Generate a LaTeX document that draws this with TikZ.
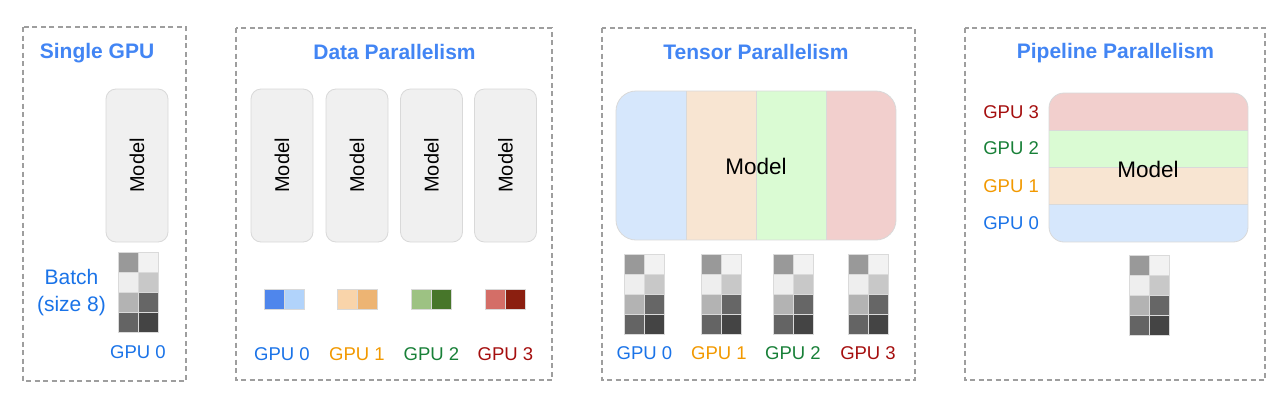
\documentclass[tikz,border=0pt]{standalone}
\usepackage{fontspec}
\setmainfont{Liberation Sans}
\definecolor{titleblue}{HTML}{4285F4}
\definecolor{gblue}{HTML}{1A73E8}
\definecolor{gorange}{HTML}{F29900}
\definecolor{ggreen}{HTML}{188038}
\definecolor{gred}{HTML}{A50E0E}
\definecolor{dashgray}{HTML}{9E9E9E}
\definecolor{modelfill}{HTML}{F0F0F0}
\definecolor{modeldraw}{HTML}{D9D9D9}
\definecolor{cellline}{HTML}{DADADA}
\definecolor{ga}{HTML}{999999}
\definecolor{gb}{HTML}{F2F2F2}
\definecolor{gc}{HTML}{EEEEEE}
\definecolor{gd}{HTML}{C8C8C8}
\definecolor{ge}{HTML}{B3B3B3}
\definecolor{gf}{HTML}{666666}
\definecolor{gg}{HTML}{646464}
\definecolor{gh}{HTML}{444444}
\definecolor{pbA}{HTML}{4F86EC}
\definecolor{pbB}{HTML}{B1D3FB}
\definecolor{poA}{HTML}{F9D4AA}
\definecolor{poB}{HTML}{EDB473}
\definecolor{pgA}{HTML}{9DC283}
\definecolor{pgB}{HTML}{47762A}
\definecolor{prA}{HTML}{D46E67}
\definecolor{prB}{HTML}{8B1F10}
\definecolor{sblue}{HTML}{D6E7FC}
\definecolor{sorange}{HTML}{F8E5D2}
\definecolor{sgreen}{HTML}{DAFBD3}
\definecolor{sred}{HTML}{F2CFCD}
\newcommand{\mybatch}[3]{%
  \foreach \cc/\rr/\col in {0/0/ga,1/0/gb,0/1/gc,1/1/gd,0/2/ge,1/2/gf,0/3/gg,1/3/gh}{
    \draw[draw=cellline, fill=\col, line width=0.6pt] ({#1+\cc*20},{#2+\rr*20}) rectangle ++(20,20);
  }
  \coordinate (#3) at ({#1+20},{#2+40});
}
\begin{document}
\begin{tikzpicture}[x=1pt,y=-1pt,
  panel/.style={draw=dashgray, line width=1.3pt, dash pattern=on 5pt off 3.5pt},
  title/.style={font=\fontsize{21}{25}\selectfont\bfseries, text=titleblue, inner sep=0pt},
  gpulab/.style={font=\fontsize{18.5}{23}\selectfont, inner sep=0pt},
  modelbox/.style={draw=modeldraw, fill=modelfill, rounded corners=10pt, line width=0.8pt, minimum width=62pt, minimum height=153pt, inner sep=0pt},
  modeltext/.style={font=\fontsize{20}{24}\selectfont, inner sep=0pt},
  hmodeltext/.style={font=\fontsize{22.5}{26}\selectfont, inner sep=0pt},
  chip/.style={draw=black!15, line width=0.6pt}
]
\useasboundingbox (0,0) rectangle (1280,397);
\fill[white] (0,0) rectangle (1280,397);

% panels
\draw[panel] (23,27) rectangle (186,381);
\draw[panel] (236,28) rectangle (552,380);
\draw[panel] (602,28) rectangle (915,380);
\draw[panel] (965,28) rectangle (1265,380);

% titles
\node[title] (t1) at (97,53) {Single GPU};
\node[title] (t2) at (394.5,52) {Data Parallelism};
\node[title] (t3) at (756,52) {Tensor Parallelism};
\node[title] (t4) at (1115.5,53) {Pipeline Parallelism};

% ---------- Single GPU ----------
\node[modelbox] (m0) at (137,165.5) {};
\node[modeltext, rotate=90] (m0t) at (m0.center) {Model};
\mybatch{118}{252}{b0}
\node[text=gblue, align=center, inner sep=0pt, font=\fontsize{21}{27}\selectfont] (batch) at (71.5,292.5) {Batch\\(size 8)};
\node[gpulab, text=gblue] (s0) at (138,352) {GPU 0};

% ---------- Data Parallelism ----------
\foreach \i/\xx in {1/282,2/357,3/431.5,4/505.5}{
  \node[modelbox] (dm\i) at (\xx,165.5) {};
  \node[modeltext, rotate=90] (dm\i t) at (dm\i.center) {Model};
}
\draw[chip, fill=pbA] (264.5,289) rectangle ++(20,20);
\draw[chip, fill=pbB] (284.5,289) rectangle ++(20,20);
\draw[chip, fill=poA] (337,289) rectangle ++(20,20);
\draw[chip, fill=poB] (357,289) rectangle ++(20,20);
\draw[chip, fill=pgA] (411,289) rectangle ++(20,20);
\draw[chip, fill=pgB] (431,289) rectangle ++(20,20);
\draw[chip, fill=prA] (485.5,289) rectangle ++(20,20);
\draw[chip, fill=prB] (505.5,289) rectangle ++(20,20);
\node[gpulab, text=gblue] (d0) at (282,354) {GPU 0};
\node[gpulab, text=gorange] (d1) at (357,354) {GPU 1};
\node[gpulab, text=ggreen] (d2) at (431.5,354) {GPU 2};
\node[gpulab, text=gred] (d3) at (505.5,354) {GPU 3};

% ---------- Tensor Parallelism ----------
\begin{scope}
  \clip[rounded corners=20pt] (616,91) rectangle (896,240);
  \fill[sblue] (616,91) rectangle (686,240);
  \fill[sorange] (686,91) rectangle (756,240);
  \fill[sgreen] (756,91) rectangle (826,240);
  \fill[sred] (826,91) rectangle (896,240);
  \draw[draw=black!15, line width=0.7pt] (686,91) -- (686,240) (756,91) -- (756,240) (826,91) -- (826,240);
\end{scope}
\node[draw=modeldraw, line width=0.8pt, rounded corners=20pt, minimum width=280pt, minimum height=149pt, inner sep=0pt] (tm) at (756,165.5) {};
\node[hmodeltext] (tmt) at (756,166) {Model};
\mybatch{624}{254}{tb0}
\mybatch{701}{254}{tb1}
\mybatch{773}{254}{tb2}
\mybatch{848}{254}{tb3}
\node[gpulab, text=gblue] (tg0) at (644.5,353) {GPU 0};
\node[gpulab, text=gorange] (tg1) at (719,353) {GPU 1};
\node[gpulab, text=ggreen] (tg2) at (793,353) {GPU 2};
\node[gpulab, text=gred] (tg3) at (868,353) {GPU 3};

% ---------- Pipeline Parallelism ----------
\begin{scope}
  \clip[rounded corners=15pt] (1049,93) rectangle (1248,242);
  \fill[sred] (1049,93) rectangle (1248,130);
  \fill[sgreen] (1049,130) rectangle (1248,167);
  \fill[sorange] (1049,167) rectangle (1248,204);
  \fill[sblue] (1049,204) rectangle (1248,242);
  \draw[draw=black!15, line width=0.7pt] (1049,130) -- (1248,130) (1049,167) -- (1248,167) (1049,204) -- (1248,204);
\end{scope}
\node[draw=modeldraw, line width=0.8pt, rounded corners=15pt, minimum width=199pt, minimum height=149pt, inner sep=0pt] (pm) at (1148.5,167.5) {};
\node[hmodeltext] (pmt) at (1148,169) {Model};
\node[gpulab, text=gred, anchor=east] (pg3) at (1039,112) {GPU 3};
\node[gpulab, text=ggreen, anchor=east] (pg2) at (1039,148) {GPU 2};
\node[gpulab, text=gorange, anchor=east] (pg1) at (1039,186) {GPU 1};
\node[gpulab, text=gblue, anchor=east] (pg0) at (1039,223) {GPU 0};
\mybatch{1129}{255}{pb0}
\end{tikzpicture}
\end{document}
